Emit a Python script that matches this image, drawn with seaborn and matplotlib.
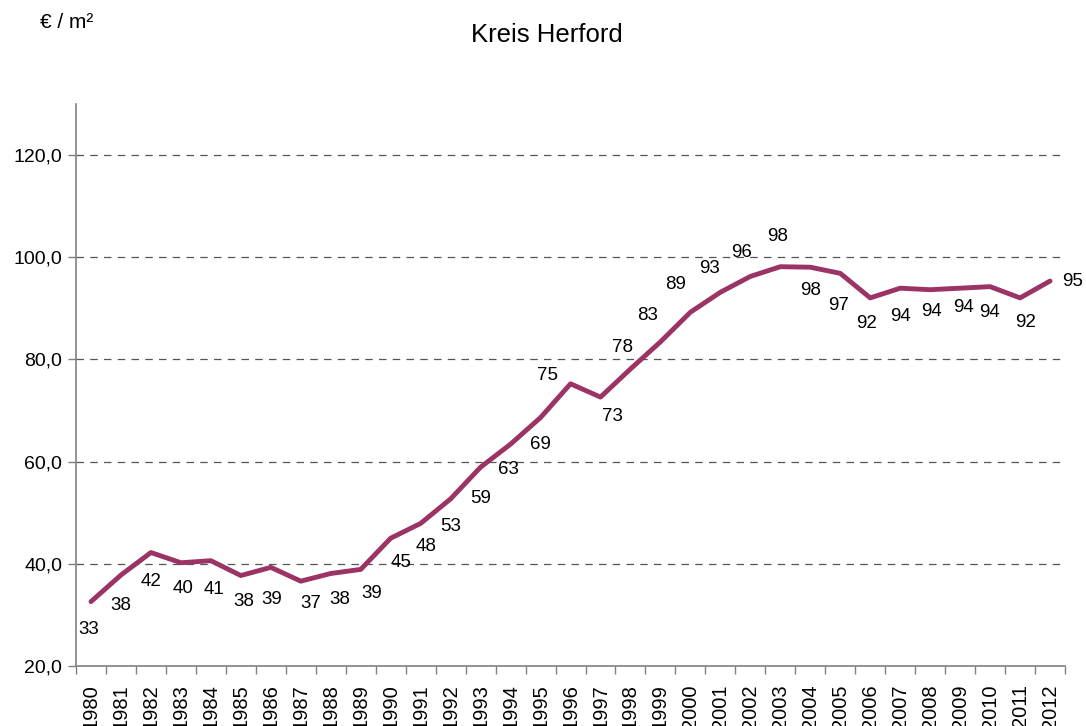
import matplotlib
matplotlib.use("Agg")
import matplotlib.pyplot as plt
import seaborn as sns
import numpy as np
import pandas as pd
from matplotlib.ticker import FixedLocator, FuncFormatter

# Bodenrichtwerte Kreis Herford, Euro je Quadratmeter
years = list(range(1980, 2013))
values = [32.6, 37.8, 42.2, 40.2, 40.6, 37.7, 39.3, 36.6, 38.1, 38.9,
          45.0, 47.9, 52.7, 58.9, 63.4, 68.6, 75.2, 72.6, 78.1, 83.4,
          89.2, 93.1, 96.2, 98.1, 98.0, 96.8, 92.0, 93.9, 93.6, 93.9,
          94.2, 92.0, 95.3]
title = "Kreis Herford"
unit_label = "€ / m²"
y_ticks = [20, 40, 60, 80, 100, 120]

# label placement relative to each point (pixels, x right / y down)
label_offsets = [(-2, 28), (0, 30), (0, 29), (2, 26), (3, 29), (3, 26), (1, 32),
                 (10, 22), (9, 26), (11, 24), (10, 24), (5, 23), (0, 28), (0, 31),
                 (-2, 25), (0, 27), (-23, -8), (12, 19), (-8, -21), (-13, -26),
                 (-15, -28), (-11, -24), (-9, -24), (-3, -30), (0, 23), (-2, 32),
                 (-4, 26), (0, 28), (1, 22), (3, 19), (-1, 26), (5, 25), (23, 0)]

df = pd.DataFrame({"Jahr": years, "Wert": values})

sns.set_theme(style="white")
plt.rcParams["font.family"] = ["Liberation Sans", "DejaVu Sans"]
plt.rcParams["text.color"] = "black"

line_color = "#9B3464"

fig = plt.figure(figsize=(10.86, 7.26), dpi=100)
ax = fig.add_axes([0.070, 0.0826, 0.9107, 0.7747])

sns.lineplot(data=df, x="Jahr", y="Wert", ax=ax, color=line_color,
             linewidth=3.5, solid_joinstyle="round", solid_capstyle="round")

ax.set_xlim(years[0] - 0.5, years[-1] + 0.5)
ax.set_ylim(20, 130)

# horizontal dashed grid
for v in y_ticks[1:]:
    ax.axhline(v, color="#555555", linewidth=0.9, dashes=(6, 5), zorder=0)

ax.yaxis.set_major_locator(FixedLocator(y_ticks))
ax.yaxis.set_major_formatter(FuncFormatter(lambda v, p: f"{v:.1f}".replace(".", ",")))
ax.xaxis.set_major_locator(FixedLocator(years))
ax.xaxis.set_major_formatter(FuncFormatter(lambda v, p: f"{int(round(v))}"))
ax.xaxis.set_minor_locator(FixedLocator([y - 0.5 for y in years] + [years[-1] + 0.5]))

ax.tick_params(axis="x", which="major", length=0, pad=13, labelsize=14.5,
               labelrotation=90, colors="black")
ax.tick_params(axis="x", which="minor", length=6, width=1, color="#808080",
               direction="out", bottom=True)
ax.tick_params(axis="y", which="major", length=6, width=1, color="#808080",
               direction="out", left=True, labelsize=14, pad=4, labelcolor="black")

for s in ["top", "right"]:
    ax.spines[s].set_visible(False)
for s in ["left", "bottom"]:
    ax.spines[s].set_color("#808080")
    ax.spines[s].set_linewidth(1.2)

ax.set_xlabel("")
ax.set_ylabel("")

for yr, val, (dx, dy) in zip(years, values, label_offsets):
    ax.annotate(f"{round(val)}", xy=(yr, val), xytext=(dx, -dy),
                textcoords="offset pixels", ha="center", va="center",
                fontsize=13.5, color="black")

fig.text(547 / 1086, 1 - 35 / 726, title, ha="center", va="center",
         fontsize=18.5, color="black")
fig.text(40 / 1086, 1 - 22 / 726, unit_label, ha="left", va="center",
         fontsize=15, color="black")

fig.savefig("out.png", dpi=100)
